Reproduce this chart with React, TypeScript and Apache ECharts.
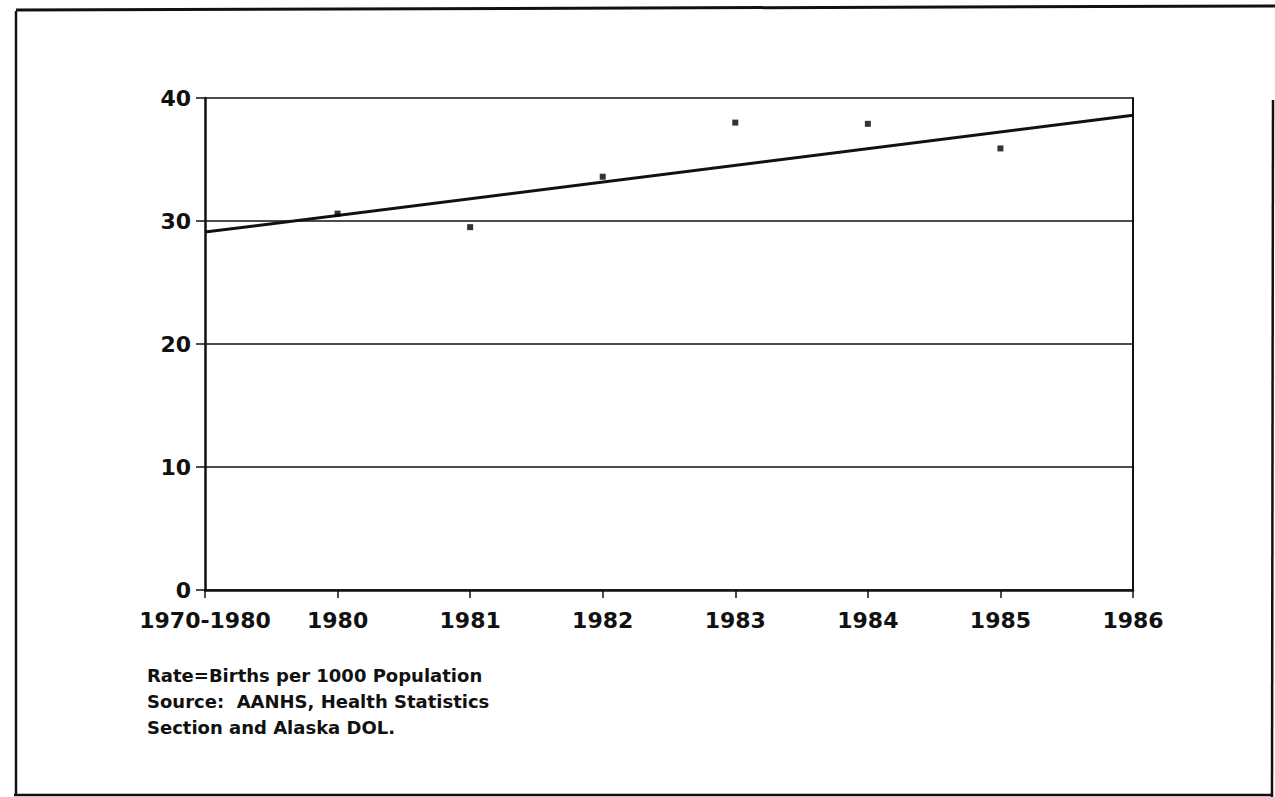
import React, { useEffect, useRef } from "react";
import * as echarts from "echarts";

const categories = ["1970-1980", "1980", "1981", "1982", "1983", "1984", "1985", "1986"];
const birthRates = [null, 30.6, 29.5, 33.6, 38.0, 37.9, 35.9, null];
const trendLine = [29.1, null, null, null, null, null, null, 38.6];
const yTicks = [0, 10, 20, 30, 40];
const footnotes = [
  "Rate=Births per 1000 Population",
  "Source:  AANHS, Health Statistics",
  "Section and Alaska DOL.",
];

const FONT = "'DejaVu Sans', 'Liberation Sans', Arial, sans-serif";

export default function App() {
  const ref = useRef<HTMLDivElement>(null);

  useEffect(() => {
    if (!ref.current) return;
    const chart = echarts.init(ref.current, null, { renderer: "svg" });
    const ink = "#111";
    const option: any = {
      animation: false,
      backgroundColor: "#fff",
      grid: { left: 205, right: 142, top: 98, bottom: 207, containLabel: false },
      xAxis: {
        type: "category",
        data: categories,
        boundaryGap: false,
        axisLine: { show: true, lineStyle: { color: ink, width: 2.5 } },
        axisTick: { show: true, alignWithLabel: true, interval: 0, length: 8, lineStyle: { color: ink, width: 1.5 } },
        axisLabel: { color: ink, fontFamily: FONT, fontWeight: "bold", fontSize: 22, margin: 19, interval: 0 },
        splitLine: { show: false },
      },
      yAxis: [
        {
          type: "value",
          min: yTicks[0],
          max: yTicks[yTicks.length - 1],
          interval: 10,
          axisLine: { show: true, lineStyle: { color: ink, width: 2.5 } },
          axisTick: { show: true, length: 9, lineStyle: { color: ink, width: 1.5 } },
          axisLabel: { color: ink, fontFamily: FONT, fontWeight: "bold", fontSize: 22, margin: 14 },
          splitLine: { show: true, lineStyle: { color: ink, width: 1.6 } },
        },
        {
          type: "value",
          position: "right",
          min: 0,
          max: 40,
          interval: 10,
          axisLine: { show: true, lineStyle: { color: ink, width: 2 } },
          axisTick: { show: false },
          axisLabel: { show: false },
          splitLine: { show: false },
        },
      ],
      series: [
        {
          name: "Trend",
          type: "line",
          data: trendLine,
          connectNulls: true,
          symbol: "none",
          lineStyle: { color: ink, width: 3 },
          z: 3,
        },
        {
          name: "Birth rate",
          type: "scatter",
          data: birthRates,
          symbol: "rect",
          symbolSize: [6, 6],
          itemStyle: { color: "#000" },
          z: 4,
        },
      ],
      graphic: [
        { type: "line", shape: { x1: 16, y1: 11, x2: 16, y2: 795 }, style: { stroke: ink, lineWidth: 2.5 } },
        { type: "line", shape: { x1: 16, y1: 10, x2: 1275, y2: 6 }, style: { stroke: ink, lineWidth: 3 } },
        { type: "line", shape: { x1: 14, y1: 795, x2: 1272, y2: 795 }, style: { stroke: ink, lineWidth: 2.5 } },
        { type: "line", shape: { x1: 1273, y1: 100, x2: 1272, y2: 797 }, style: { stroke: ink, lineWidth: 2.5 } },
        ...footnotes.map((t, i) => ({
          type: "text",
          left: 147,
          top: 666 + i * 26,
          style: { text: t, fill: ink, font: `bold 18px ${FONT}` },
        })),
      ],
    };
    chart.setOption(option);
    return () => chart.dispose();
  }, []);

  return (
    <div
      ref={ref}
      style={{ position: "fixed", left: 0, top: 0, width: 1275, height: 797, background: "#fff" }}
    />
  );
}
